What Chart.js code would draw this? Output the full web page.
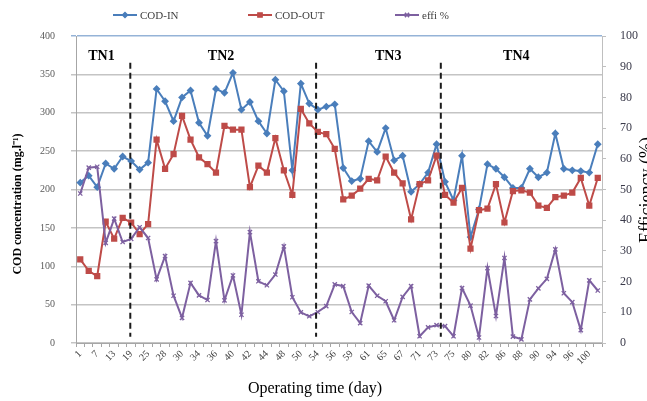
<!DOCTYPE html>
<html>
<head>
<meta charset="utf-8">
<script src="https://cdn.jsdelivr.net/npm/chart.js@4.4.0/dist/chart.umd.min.js"></script>
<style>
  html, body { margin: 0; padding: 0; background: #fff; }
  #wrap { width: 647px; height: 401px; }
</style>
</head>
<body>
<div id="wrap"><canvas id="codChart" width="647" height="401"></canvas></div>
<script>
// tick labels shown on the x axis (every other day of sampling)
var diasVisiveis = [1, 7, 13, 19, 25, 28, 30, 34, 36, 40, 42, 44, 48, 50, 54, 56, 59, 61, 65, 67, 71, 73, 75, 80, 82, 86, 88, 90, 94, 96, 100];

// COD in / out (mg/l) and removal efficiency (%)
var codIn = [209, 218, 203, 234, 227, 243, 237, 226, 235, 331,
             315, 289, 320, 329, 287, 270, 331, 326, 352, 304,
             314, 289, 273, 343, 328, 225, 338, 312, 304, 308,
             311, 228, 211, 214, 263, 249, 280, 238, 244, 197,
             207, 222, 259, 210, 186, 244, 138, 174, 233, 227,
             216, 202, 202, 227, 216, 222, 273, 227, 225, 224,
             222, 259];
var codOut = [109, 94, 87, 158, 136, 163, 157, 142, 155, 265,
              227, 246, 296, 265, 242, 233, 222, 283, 278, 278,
              203, 231, 222, 267, 225, 193, 305, 286, 275, 272,
              253, 187, 192, 201, 214, 212, 243, 222, 208, 161,
              207, 212, 244, 193, 183, 202, 123, 173, 175, 207,
              157, 198, 199, 196, 179, 176, 190, 192, 196, 215,
              179, 215];
var efi = [48.7, 57.1, 57.4, 32.6, 40.5, 32.9, 33.9, 37.7, 34.2, 20.7,
           28.3, 15.4, 8.2, 19.6, 15.5, 14.0, 33.2, 13.9, 22.0, 9.2,
           36.1, 20.1, 18.8, 22.3, 31.5, 14.9, 10.0, 8.7, 10.1, 12.0,
           19.1, 18.5, 10.1, 6.5, 18.7, 15.4, 13.6, 7.4, 15.0, 18.5,
           2.2, 5.1, 5.8, 5.5, 2.2, 17.9, 12.2, 1.8, 24.4, 8.8,
           27.7, 2.1, 1.2, 14.2, 17.8, 20.9, 30.5, 16.2, 13.3, 4.2,
           20.4, 17.1];

// phases
var fases = ['TN1', 'TN2', 'TN3', 'TN4'];

// one label every two samples, the others stay empty
var rotulos = codIn.map(function (v, i) {
  return i % 2 === 0 ? String(diasVisiveis[i / 2]) : '';
});

var serif = "'Liberation Serif', 'Times New Roman', serif";
var azul = '#4A7EBB', vermelho = '#BE4B48', roxo = '#7D60A0';

// where the phase dividers and names sit, in category units
var divisorias = [5.9, 27.8, 42.5];
var centroFases = [2.5, 16.6, 36.3, 51.4];

var series = [
  { nome: 'COD-IN', cor: azul, estilo: 'rectRot', raio: 2.5 },
  { nome: 'COD-OUT', cor: vermelho, estilo: 'rect', raio: 3 },
  { nome: 'effi %', cor: roxo, estilo: 'crossRot', raio: 3 }
];

// legend, titles, dashed dividers and phase names
var extras = {
  id: 'extras',
  afterDatasetsDraw: function (chart) {
    var ctx = chart.ctx;
    var x = chart.scales.x, y = chart.scales.y;
    ctx.save();

    // dividers
    ctx.setLineDash([6, 4]);
    ctx.lineWidth = 2;
    ctx.strokeStyle = '#1a1a1a';
    divisorias.forEach(function (d) {
      var px = x.getPixelForValue(d);
      ctx.beginPath();
      ctx.moveTo(px, y.getPixelForValue(365));
      ctx.lineTo(px, y.getPixelForValue(8));
      ctx.stroke();
    });
    ctx.setLineDash([]);

    // phase names
    ctx.fillStyle = '#000';
    ctx.font = 'bold 14px ' + serif;
    ctx.textAlign = 'center';
    ctx.textBaseline = 'middle';
    fases.forEach(function (f, i) {
      ctx.fillText(f, x.getPixelForValue(centroFases[i]), y.getPixelForValue(374));
    });

    // legend
    var legX = [113, 248, 395];
    ctx.font = '11px ' + serif;
    ctx.textAlign = 'left';
    series.forEach(function (s, i) {
      var lx = legX[i], ly = 15;
      ctx.strokeStyle = s.cor;
      ctx.fillStyle = s.cor;
      ctx.lineWidth = 2;
      ctx.beginPath();
      ctx.moveTo(lx, ly);
      ctx.lineTo(lx + 24, ly);
      ctx.stroke();
      ctx.lineWidth = 1.5;
      Chart.helpers.drawPoint(ctx, { pointStyle: s.estilo, radius: s.raio, rotation: 0, borderWidth: 1.5 }, lx + 12, ly);
      ctx.fillStyle = '#404040';
      ctx.fillText(s.nome, lx + 27, ly + 1);
    });

    // axis titles
    ctx.fillStyle = '#000';
    ctx.textAlign = 'center';
    ctx.font = '16px ' + serif;
    ctx.fillText('Operating time (day)', 315, 389);

    ctx.save();
    ctx.translate(18, 204);
    ctx.rotate(-Math.PI / 2);
    ctx.font = 'bold 12px ' + serif;
    ctx.fillText('COD concentration (mg.l\u207B\u00B9)', 0, 0);
    ctx.restore();

    ctx.save();
    ctx.translate(647, 190);
    ctx.rotate(-Math.PI / 2);
    ctx.font = '18px ' + serif;
    ctx.fillText('Efficiency (%)', 0, 0);
    ctx.restore();

    ctx.restore();
  }
};

var ctx1 = document.getElementById('codChart').getContext('2d');
var chart = new Chart(ctx1, {
  type: 'line',
  data: {
    labels: rotulos,
    datasets: [{
      label: 'COD-IN',
      data: codIn,
      yAxisID: 'y',
      borderColor: azul,
      backgroundColor: azul,
      borderWidth: 2,
      pointStyle: 'rectRot',
      pointRadius: 2.5,
      order: 3
    }, {
      label: 'COD-OUT',
      data: codOut,
      yAxisID: 'y',
      borderColor: vermelho,
      backgroundColor: vermelho,
      borderWidth: 2,
      pointStyle: 'rect',
      pointRadius: 3,
      order: 2
    }, {
      label: 'effi %',
      data: efi,
      yAxisID: 'y1',
      borderColor: roxo,
      backgroundColor: roxo,
      borderWidth: 2,
      pointStyle: 'crossRot',
      pointRadius: 3,
      pointBorderWidth: 1.3,
      order: 1
    }]
  },
  options: {
    responsive: false,
    animation: false,
    devicePixelRatio: 1,
    layout: { padding: { top: 36, left: 0, right: 0, bottom: 0 } },
    plugins: {
      legend: { display: false },
      tooltip: { enabled: false }
    },
    scales: {
      x: {
        offset: true,
        afterFit: function (s) { s.height = 58; },
        grid: { drawOnChartArea: false, offset: true, tickLength: 4, color: '#a6a6a6' },
        border: { color: '#a6a6a6' },
        ticks: {
          autoSkip: false,
          maxRotation: 45,
          minRotation: 45,
          padding: 1,
          color: '#404040',
          font: { family: serif, size: 10 }
        }
      },
      y: {
        position: 'left',
        min: 0,
        max: 400,
        afterFit: function (s) { s.width = 76; },
        grid: {
          color: function (c) { return c.tick && c.tick.value === 400 ? '#95b3d7' : '#c4c4c4'; },
          lineWidth: 1.5,
          tickLength: 5
        },
        border: { color: '#a6a6a6' },
        ticks: {
          stepSize: 50,
          padding: 16,
          color: '#595959',
          font: { family: serif, size: 10 }
        }
      },
      y1: {
        position: 'right',
        min: 0,
        max: 100,
        afterFit: function (s) { s.width = 45; },
        grid: { drawOnChartArea: false, tickLength: 4, color: '#bfbfbf' },
        border: { color: '#bfbfbf' },
        ticks: {
          stepSize: 10,
          padding: 14,
          color: '#3a3a4a',
          font: { family: serif, size: 12 }
        }
      }
    }
  },
  plugins: [extras]
});
</script>
</body>
</html>
